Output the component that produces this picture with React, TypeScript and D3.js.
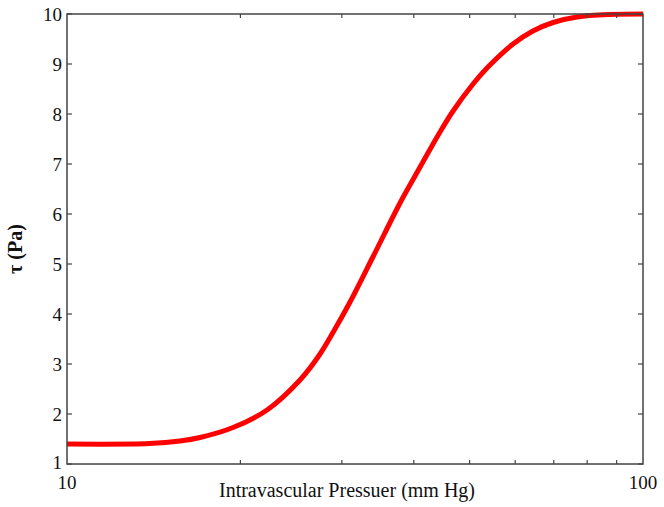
import React from "react";
import * as d3 from "d3";

const pressure = [10, 13.9, 15.71, 17.02, 19.42, 22.25, 25.38, 27.5, 29.19, 31.0, 34.0, 37.86, 40.2, 42.33, 44.42, 46.8, 50.69, 53.6, 59.48, 64.4, 69.8, 76.81, 87.64, 100];
const tau = [1.4, 1.41, 1.46, 1.53, 1.73, 2.08, 2.68, 3.2, 3.7, 4.24, 5.15, 6.22, 6.76, 7.22, 7.64, 8.06, 8.6, 8.92, 9.4, 9.66, 9.83, 9.94, 9.99, 10];
const yTicks = [1, 2, 3, 4, 5, 6, 7, 8, 9, 10];
const xMajorTicks = [10, 100];
const xMinorTicks = [20, 30, 40, 50, 60, 70, 80, 90];

const W = 664, H = 507;
const L = 67, R = 643, T = 14, B = 464;

export default function App() {
  const x = d3.scaleLog().domain([10, 100]).range([L, R]);
  const y = d3.scaleLinear().domain([1, 10]).range([B, T]);
  const pts = pressure.map((p, i) => [p, tau[i]] as [number, number]);
  const line = d3.line<[number, number]>().x(d => x(d[0])).y(d => y(d[1])).curve(d3.curveCatmullRom.alpha(0.5));
  const axisColor = "#444";
  const font = "'Liberation Serif', 'Times New Roman', serif";
  const tl = 5;
  return (
    <svg width={W} height={H} style={{ position: "absolute", left: 0, top: 0, background: "#fff" }}>
      <rect x={0} y={0} width={W} height={H} fill="#fff" />
      <path d={line(pts) ?? ""} fill="none" stroke="#ff0000" strokeWidth={5} strokeLinejoin="round" />
      <rect x={L} y={T} width={R - L} height={B - T} fill="none" stroke={axisColor} strokeWidth={1.5} />
      {yTicks.map(t => (
        <g key={"y" + t}>
          <line x1={L} x2={L + tl} y1={y(t)} y2={y(t)} stroke={axisColor} strokeWidth={1.2} />
          <line x1={R} x2={R - tl} y1={y(t)} y2={y(t)} stroke={axisColor} strokeWidth={1.2} />
          <text x={L - 5} y={y(t) - (t === 1 ? 2 : 0)} dy="0.35em" textAnchor="end" fontFamily={font} fontSize={19} fill="#111">{t}</text>
        </g>
      ))}
      {xMinorTicks.map(t => (
        <g key={"xm" + t}>
          <line x1={x(t)} x2={x(t)} y1={B} y2={B - 4} stroke={axisColor} strokeWidth={1.2} />
          <line x1={x(t)} x2={x(t)} y1={T} y2={T + 4} stroke={axisColor} strokeWidth={1.2} />
        </g>
      ))}
      {xMajorTicks.map(t => (
        <text key={"xl" + t} x={x(t)} y={B + 18} dy="0.35em" textAnchor="middle" fontFamily={font} fontSize={19} fill="#111">{t}</text>
      ))}
      <text x={347} y={490} dy="0.35em" textAnchor="middle" fontFamily={font} fontSize={20} fill="#111">Intravascular Pressuer (mm Hg)</text>
      <text transform={`translate(15, 249) rotate(-90)`} dy="0.35em" textAnchor="middle" fontFamily={font} fontSize={20} fontWeight="bold" fill="#111">τ (Pa)</text>
    </svg>
  );
}
